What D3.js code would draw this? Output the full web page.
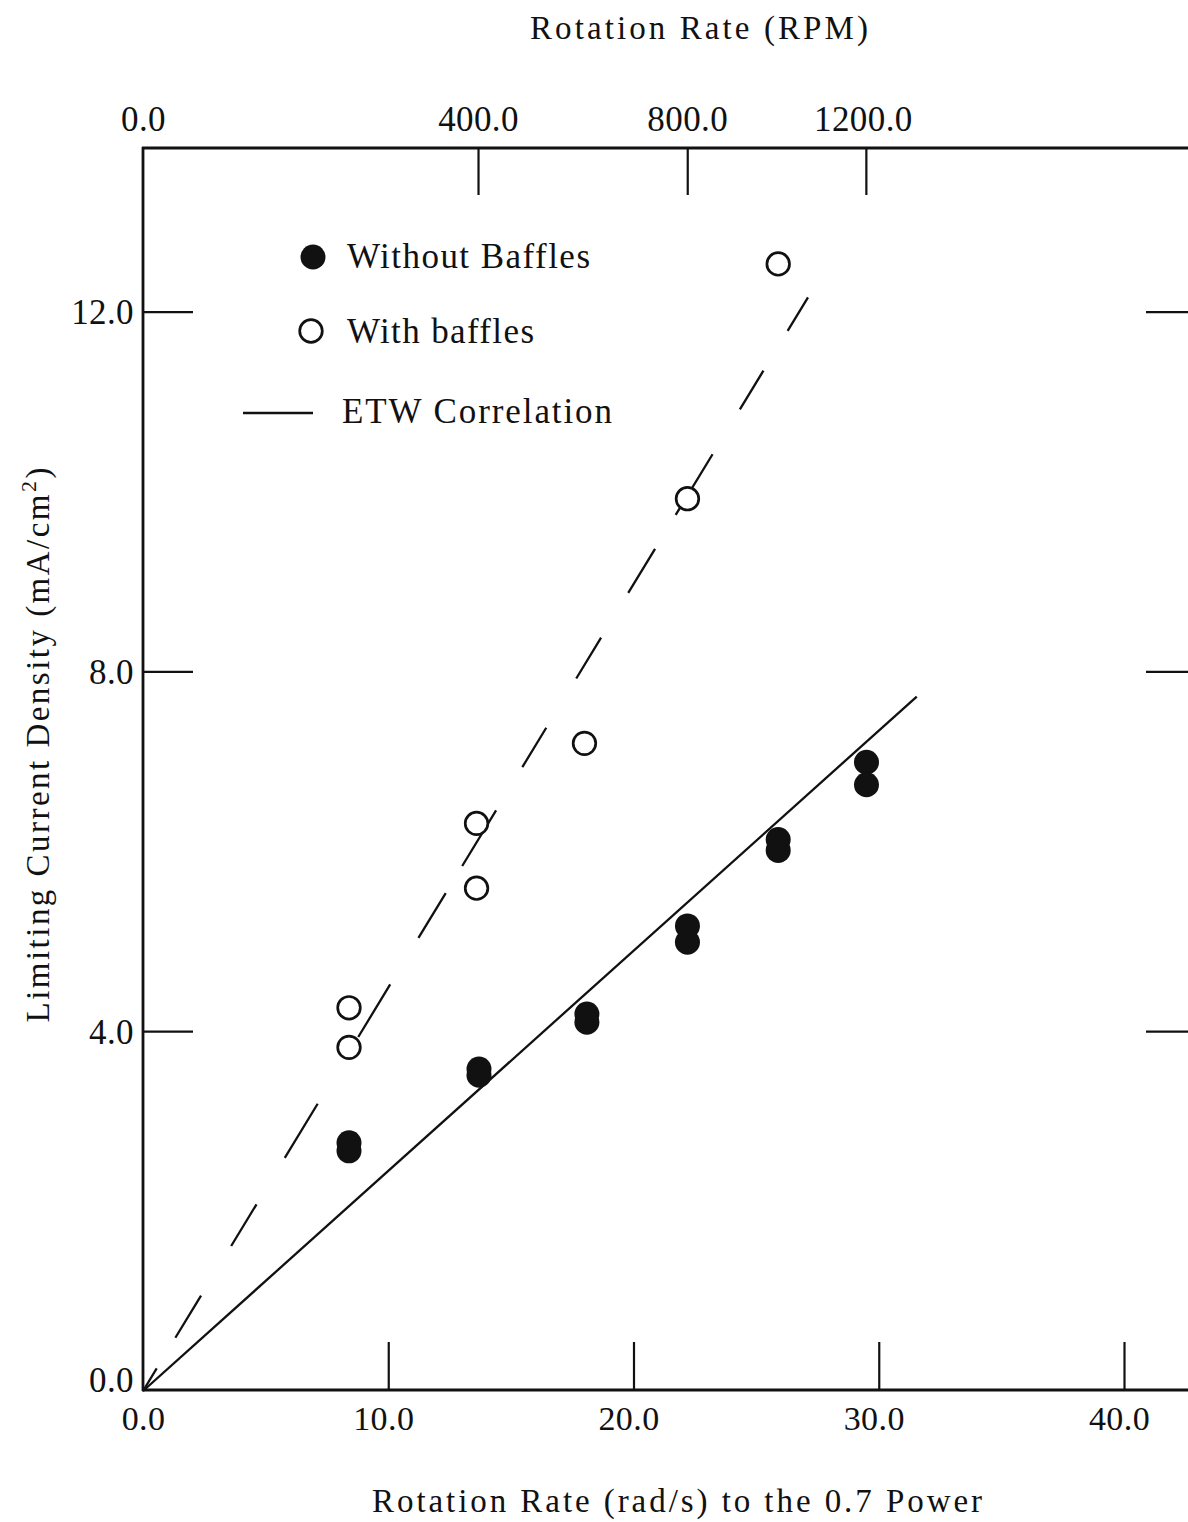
<!DOCTYPE html>
<html>
<head>
<meta charset="utf-8">
<script src="https://cdn.jsdelivr.net/npm/d3@7"></script>
<style>
  html, body { margin: 0; padding: 0; background: #fff; }
  svg { display: block; }
  text { font-family: "Liberation Serif", "Times New Roman", serif; fill: #111; }
</style>
</head>
<body>
<svg id="chart" width="1188" height="1522"></svg>
<script>
// ---- data ----
const withoutX = [8.4, 8.4, 13.7, 13.7, 18.1, 18.1, 22.2, 22.2, 25.9, 25.9, 29.5, 29.5];
const withoutY = [2.76, 2.67, 3.58, 3.51, 4.19, 4.10, 5.17, 4.99, 6.13, 6.01, 6.99, 6.74];
const withX = [8.4, 8.4, 13.6, 13.6, 18.0, 22.2, 25.9];
const withY = [4.26, 3.82, 6.31, 5.59, 7.20, 9.92, 12.53];
const etwX = [0, 31.55];
const etwY = [0, 7.72];
const dashX = [0, 27.14];
const dashY = [0, 12.17];
const xTicks = [0, 10, 20, 30, 40];
const yTicks = [0, 4, 8, 12];
const rpmTicks = [0, 400, 800, 1200];
const rpmLabels = ["0.0", "400.0", "800.0", "1200.0"];
const legendLabels = ["Without Baffles", "With baffles", "ETW Correlation"];

// ---- layout ----
const W = 1188, H = 1522;
const pLeft = 143, pTop = 148, pBottom = 1390, pRight = 1192;
const svg = d3.select("#chart");

const x = d3.scaleLinear().domain([0, 40]).range([pLeft, 1124]);
const y = d3.scaleLinear().domain([0, 12]).range([1391, 311.6]);
const rpmToX = rpm => Math.pow(rpm * 2 * Math.PI / 60, 0.7);
const fmt = d3.format(".1f");

// frame lines
const frame = svg.append("g").attr("stroke", "#111").attr("stroke-width", 2.8).attr("fill", "none");
frame.append("line").attr("x1", pLeft).attr("x2", pLeft).attr("y1", pTop - 1).attr("y2", pBottom + 1);
frame.append("line").attr("x1", pLeft - 1).attr("x2", W + 10).attr("y1", pTop).attr("y2", pTop);
frame.append("line").attr("x1", pLeft - 1).attr("x2", W + 10).attr("y1", pBottom).attr("y2", pBottom);

function styleAxis(g, fs) {
  g.select(".domain").remove();
  g.selectAll(".tick line").attr("stroke", "#111").attr("stroke-width", 2.2);
  g.selectAll(".tick text").attr("font-size", fs).attr("fill", "#111")
    .attr("font-family", "Liberation Serif, serif");
}

// left axis
const gl = svg.append("g").attr("transform", `translate(${pLeft},0)`)
  .call(d3.axisLeft(y).tickValues(yTicks).tickFormat(fmt).tickSizeInner(-50).tickSizeOuter(0).tickPadding(9));
styleAxis(gl, 35);
gl.selectAll(".tick text").attr("dy", d => d === 0 ? "0.0em" : "0.35em").attr("letter-spacing", 0.4);
gl.selectAll(".tick").filter(d => d === 0).select("line").remove();

// right axis (ticks only)
const gr = svg.append("g").attr("transform", `translate(${pRight},0)`)
  .call(d3.axisRight(y).tickValues(yTicks.filter(d => d > 0)).tickFormat("").tickSizeInner(-46).tickSizeOuter(0));
styleAxis(gr, 0);

// bottom axis
const gb = svg.append("g").attr("transform", `translate(0,${pBottom})`)
  .call(d3.axisBottom(x).tickValues(xTicks).tickFormat(fmt).tickSizeInner(-48).tickSizeOuter(0).tickPadding(16));
styleAxis(gb, 34);
gb.selectAll(".tick text").attr("dx", d => d === 0 ? 0 : -5).attr("letter-spacing", 0.4);
gb.selectAll(".tick").filter(d => d === 0).select("line").remove();

// top axis (RPM)
const gt = svg.append("g").attr("transform", `translate(0,${pTop})`)
  .call(d3.axisTop(x).tickValues(rpmTicks.map(rpmToX)).tickFormat((d, i) => rpmLabels[i]).tickSizeInner(-47).tickSizeOuter(0).tickPadding(17));
styleAxis(gt, 35);
gt.selectAll(".tick text").attr("letter-spacing", 0.4).attr("dx", (d, i) => i === 3 ? -3 : 0);
gt.selectAll(".tick").filter((d, i) => i === 0).select("line").remove();

// lines
const lineGen = d3.line().x(d => x(d[0])).y(d => y(d[1]));
svg.append("path").datum(d3.zip(etwX, etwY)).attr("d", lineGen)
  .attr("fill", "none").attr("stroke", "#111").attr("stroke-width", 2.3);
svg.append("path").datum(d3.zip(dashX, dashY)).attr("d", lineGen)
  .attr("fill", "none").attr("stroke", "#111").attr("stroke-width", 2.3)
  .attr("stroke-dasharray", "26.4,35.9,49.4,58,48.8,54.4,63.3,78.1,61.5,54.4,52.5,31.7,65.2,50.5,46.1,57.7,47.8,52.3,51.6,39.7,71,52.6,45.3,46.6,39.2,100");

// points
svg.append("g").selectAll("circle").data(d3.zip(withoutX, withoutY)).join("circle")
  .attr("cx", d => x(d[0])).attr("cy", d => y(d[1])).attr("r", 12.5).attr("fill", "#111");
svg.append("g").selectAll("circle").data(d3.zip(withX, withY)).join("circle")
  .attr("cx", d => x(d[0])).attr("cy", d => y(d[1])).attr("r", 11.3)
  .attr("fill", "#fff").attr("stroke", "#111").attr("stroke-width", 2.7);

// legend
const lg = svg.append("g");
lg.append("circle").attr("cx", 313).attr("cy", 257).attr("r", 12.5).attr("fill", "#111");
lg.append("circle").attr("cx", 311).attr("cy", 331).attr("r", 11.3).attr("fill", "#fff").attr("stroke", "#111").attr("stroke-width", 2.7);
lg.append("line").attr("x1", 243).attr("x2", 313).attr("y1", 413).attr("y2", 413).attr("stroke", "#111").attr("stroke-width", 2.3);
const legPos = [[347, 268, 243], [347, 343, 187], [342, 423, 270]];
legendLabels.forEach((t, i) => {
  lg.append("text").attr("x", legPos[i][0]).attr("y", legPos[i][1]).attr("font-size", 35)
    .attr("textLength", legPos[i][2]).attr("lengthAdjust", "spacing").text(t);
});

// axis titles
svg.append("text").attr("x", 699).attr("y", 39).attr("text-anchor", "middle").attr("font-size", 33)
  .attr("textLength", 338).attr("lengthAdjust", "spacing").text("Rotation Rate (RPM)");
svg.append("text").attr("x", 677).attr("y", 1512).attr("text-anchor", "middle").attr("font-size", 33)
  .attr("textLength", 610).attr("lengthAdjust", "spacing").text("Rotation Rate (rad/s) to the 0.7 Power");
const yl = svg.append("text").attr("transform", "translate(49,745) rotate(-90)")
  .attr("text-anchor", "middle").attr("font-size", 33)
  .attr("textLength", 555).attr("lengthAdjust", "spacing");
yl.append("tspan").text("Limiting Current Density (mA/cm");
yl.append("tspan").attr("font-size", 22).attr("dy", -13).text("2");
yl.append("tspan").attr("dy", 13).text(")");
</script>
</body>
</html>
